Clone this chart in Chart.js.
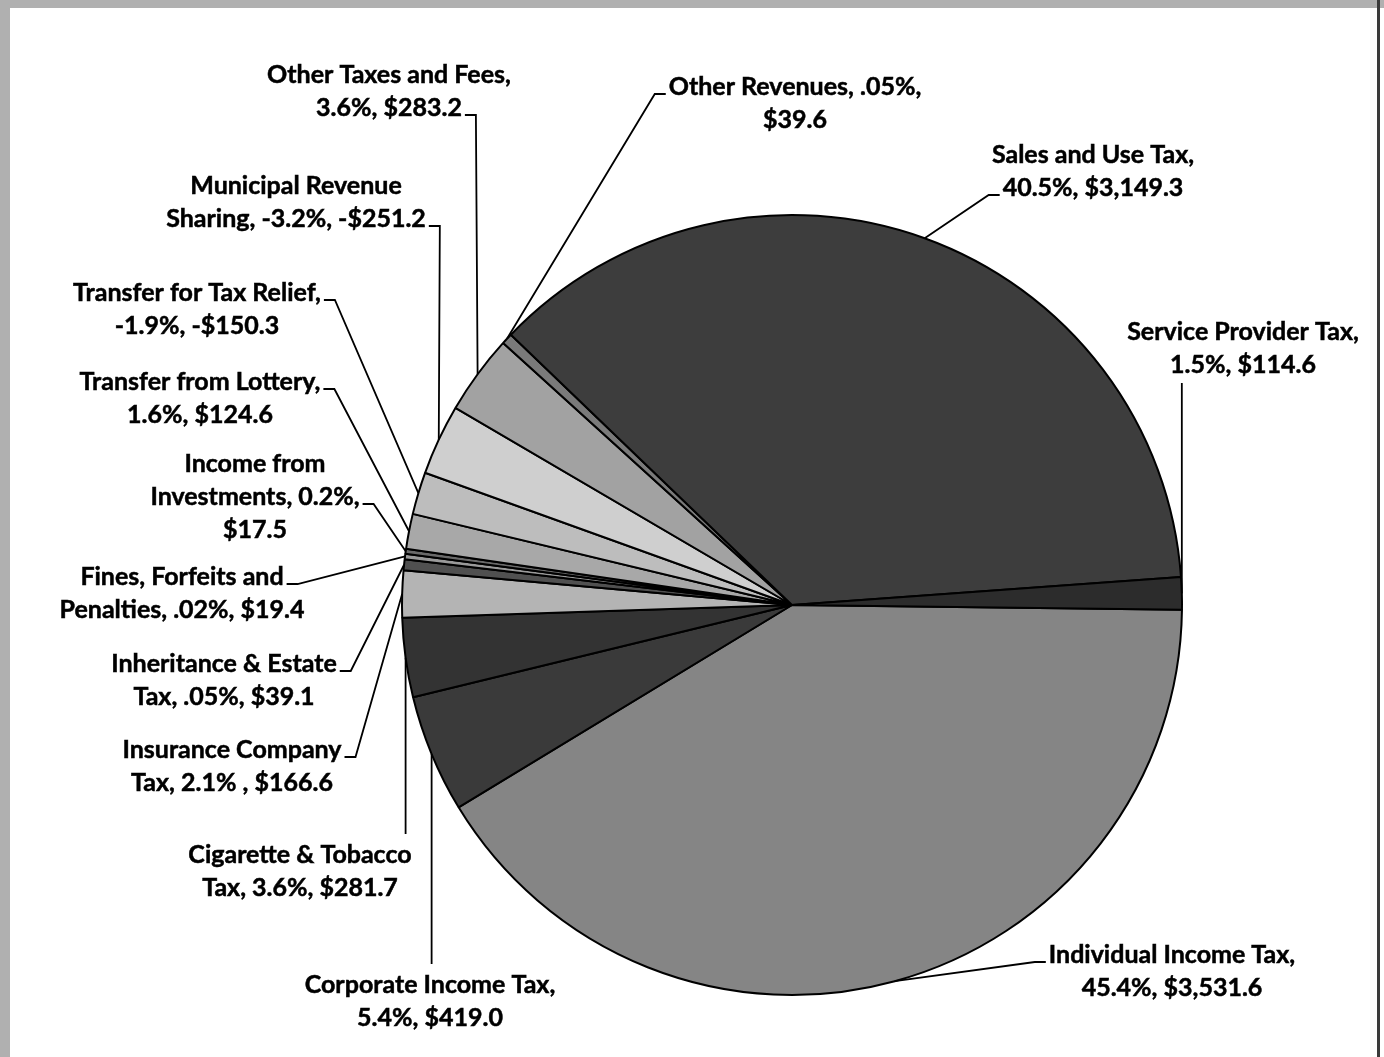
<!DOCTYPE html>
<html>
<head>
<meta charset="utf-8">
<script src="https://cdn.jsdelivr.net/npm/chart.js@4.4.0/dist/chart.umd.min.js"></script>
<style>
  html, body { margin: 0; padding: 0; background: #fff; }
  canvas { display: block; }
</style>
</head>
<body>
<canvas id="myChart" width="1384" height="1057"></canvas>
<script>
// General Fund revenue by source ($ millions), clockwise from 3 o'clock
const categories = [
    "Individual Income Tax", "Corporate Income Tax", "Cigarette & Tobacco Tax",
    "Insurance Company Tax", "Inheritance & Estate Tax", "Fines, Forfeits and Penalties",
    "Income from Investments", "Transfer from Lottery", "Transfer for Tax Relief",
    "Municipal Revenue Sharing", "Other Taxes and Fees", "Other Revenues",
    "Sales and Use Tax", "Service Provider Tax"
];
const amounts = [3531.6, 419.0, 281.7, 166.6, 39.1, 19.4, 17.5, 124.6, -150.3, -251.2, 283.2, 39.6, 3149.3, 114.6];
const percents = ["45.4%", "5.4%", "3.6%", "2.1% ", ".05%", ".02%", "0.2%", "1.6%", "-1.9%", "-3.2%", "3.6%", ".05%", "40.5%", "1.5%"];

// styles
const sliceColors = [
    "#858585", "#3a3a3a", "#333333", "#b4b4b4", "#505050", "#9a9a9a", "#6a6a6a",
    "#a8a8a8", "#bdbdbd", "#cfcfcf", "#a2a2a2", "#7a7a7a", "#3d3d3d", "#2c2c2c"
];

// label placement: centre x, first line y, word breaks, leader side, line the leader leaves from
const labelLayout = [
    { x: 1172, y: 955, breaks: [3], side: "left", line: 0 },
    { x: 430, y: 985, breaks: [3], side: "top" },
    { x: 300, y: 855, breaks: [3], side: "top" },
    { x: 232, y: 750, breaks: [2], side: "right", line: 0 },
    { x: 224, y: 664, breaks: [3], side: "right", line: 0 },
    { x: 182, y: 577, breaks: [3], side: "right", line: 0 },
    { x: 255, y: 464, breaks: [2, 4], side: "right", line: 1 },
    { x: 200, y: 382, breaks: [3], side: "right", line: 0 },
    { x: 197, y: 293, breaks: [4], side: "right", line: 0 },
    { x: 296, y: 186, breaks: [2], side: "right", line: 1 },
    { x: 389, y: 75, breaks: [4], side: "right", line: 1 },
    { x: 795, y: 87, breaks: [3], side: "left", line: 0 },
    { x: 1093, y: 155, breaks: [4], side: "left", line: 1 },
    { x: 1243, y: 332, breaks: [3], side: "bottom" }
];

const money = (v) =>
    (v < 0 ? "-$" : "$") + Math.abs(v).toLocaleString("en-US", { minimumFractionDigits: 1, maximumFractionDigits: 1 });

const labelLines = (i) => {
    const words = `${categories[i]}, ${percents[i]}, ${money(amounts[i])}`.split(" ");
    const cuts = [0, ...labelLayout[i].breaks, words.length];
    const lines = [];
    for (let k = 0; k < cuts.length - 1; k++) lines.push(words.slice(cuts[k], cuts[k + 1]).join(" "));
    return lines;
};

const framePlugin = {
    id: "frame",
    beforeDraw(chart) {
        const ctx = chart.ctx;
        ctx.save();
        ctx.fillStyle = "#ffffff";
        ctx.fillRect(0, 0, chart.width, chart.height);
        ctx.fillStyle = "#b0b0b0";
        ctx.fillRect(0, 0, chart.width, 8);
        ctx.fillRect(0, 0, 10, chart.height);
        ctx.fillStyle = "#3a3a3a";
        ctx.fillRect(1377, 0, 3, chart.height);
        ctx.restore();
    }
};

const labelPlugin = {
    id: "sliceLabels",
    afterDraw(chart) {
        const ctx = chart.ctx;
        const arcs = chart.getDatasetMeta(0).data;
        const lh = 33;
        ctx.save();
        ctx.font = "bold 25px Lato";
        ctx.textAlign = "center";
        ctx.textBaseline = "middle";
        ctx.fillStyle = "#000";
        ctx.strokeStyle = "#000";

        arcs.forEach((arc, i) => {
            const lay = labelLayout[i];
            const lines = labelLines(i);
            const { x, y, startAngle, endAngle, outerRadius } = arc.getProps(["x", "y", "startAngle", "endAngle", "outerRadius"], true);
            const mid = (startAngle + endAngle) / 2;
            const px = x + Math.cos(mid) * outerRadius;
            const py = y + Math.sin(mid) * outerRadius;

            ctx.lineWidth = 0.5;
            lines.forEach((t, k) => {
                ctx.fillText(t, lay.x, lay.y + k * lh);
                ctx.strokeText(t, lay.x, lay.y + k * lh);
            });

            ctx.lineWidth = 1.8;
            ctx.beginPath();
            if (lay.side === "left" || lay.side === "right") {
                const w = ctx.measureText(lines[lay.line]).width;
                const dir = lay.side === "right" ? 1 : -1;
                const sx = lay.x + dir * (w / 2 + 3);
                const sy = lay.y + lay.line * lh + 7;
                ctx.moveTo(sx, sy);
                ctx.lineTo(sx + dir * 11, sy);
                ctx.lineTo(px, py);
            } else if (lay.side === "top") {
                ctx.moveTo(px, lay.y - 21);
                ctx.lineTo(px, py);
            } else {
                ctx.moveTo(px, lay.y + (lines.length - 1) * lh + 18);
                ctx.lineTo(px, py);
            }
            ctx.stroke();
        });
        ctx.restore();
    }
};

new Chart(document.getElementById("myChart").getContext("2d"), {
    type: "pie",
    data: {
        labels: categories,
        datasets: [
            {
                data: amounts.map(Math.abs),
                backgroundColor: sliceColors,
                borderColor: "#000",
                borderWidth: 2
            }
        ]
    },
    options: {
        responsive: false,
        animation: false,
        rotation: 90.7,
        radius: 390,
        layout: { padding: { left: 200, right: 0, top: 153, bottom: 0 } },
        plugins: {
            legend: { display: false },
            tooltip: { enabled: false }
        }
    },
    plugins: [framePlugin, labelPlugin]
});
</script>
</body>
</html>
